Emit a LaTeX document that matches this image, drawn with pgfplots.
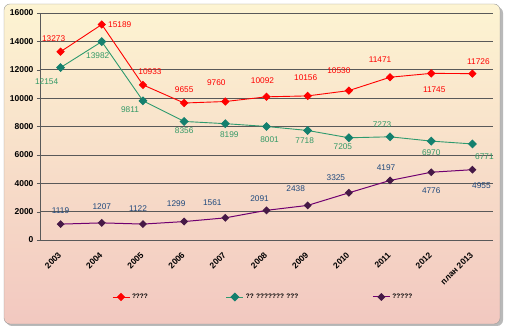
\documentclass[border=0pt]{standalone}
\usepackage{pgfplots}
\pgfplotsset{compat=1.18}
\usepackage{pgfplotstable}
\usepackage{fontspec}
\setmainfont{Liberation Sans}
\definecolor{cred}{RGB}{255,0,0}
\definecolor{cgreen}{RGB}{46,154,110}
\definecolor{cgreenm}{RGB}{20,128,110}
\definecolor{cgreenl}{RGB}{51,153,102}
\definecolor{cpurple}{RGB}{112,0,112}
\definecolor{cpurplem}{RGB}{70,25,70}
\definecolor{cblue}{RGB}{31,73,125}
\definecolor{bgtop}{RGB}{253,244,210}
\definecolor{bgmid}{RGB}{246,228,196}
\definecolor{bgbot}{RGB}{242,200,192}

\pgfplotstableread{
x y dx dy
0 13273 -7 -13
1 15189 18 0
2 10933 7 -13
3 9655 0 -13
4 9760 -9 -19
5 10092 -4 -16
6 10156 -2 -18
7 10530 -10 -20
8 11471 -10 -18
9 11745 3 16
10 11726 6 -12
}\redtab

\pgfplotstableread{
x y dx dy
0 12154 -14 14
1 13982 -4 14
2 9811 -13 9
3 8356 0 9
4 8199 4 11
5 8001 3 13
6 7718 -3 10
7 7205 -6 9
8 7273 -8 -12
9 6970 0 12
10 6771 12 13
}\greentab

\pgfplotstableread{
x y dx dy
0 1119 0 -13
1 1207 0 -16
2 1122 -5 -15
3 1299 -8 -18
4 1561 -13 -15
5 2091 -7 -12
6 2438 -12 -17
7 3325 -13 -15
8 4197 -4 -13
9 4776 0 18
10 4955 9 16
}\purpletab

\pgfplotsset{
  lbl/.style={
    nodes near coords={\pgfmathprintnumber{\pgfplotspointmeta}},
    point meta=explicit,
    visualization depends on={\thisrow{dx}\as\dx},
    visualization depends on={-\thisrow{dy}\as\dy},
    nodes near coords style={anchor=center, xshift=\dx, yshift=\dy, font=\fontsize{8.3}{9}\selectfont, text=#1},
  }
}

\begin{document}
\begin{tikzpicture}[x=1pt,y=1pt]
\useasboundingbox (0,0) rectangle (508,328);
\fill[gray!55, rounded corners=6pt] (6,2) rectangle (503,321);
\shade[top color=bgtop, middle color=bgmid, bottom color=bgbot, draw=gray!80, rounded corners=6pt] (4,4) rectangle (500,324);
\begin{axis}[
  at={(40pt,88pt)}, anchor=south west,
  scale only axis, width=453pt, height=227pt,
  xmin=-0.5, xmax=10.5, ymin=0, ymax=16000,
  axis x line=bottom, axis y line=left,
  axis line style={gray!70!black, -},
  clip=false,
  xtick={0,...,10},
  xticklabels={2003,2004,2005,2006,2007,2008,2009,2010,2011,2012,план 2013},
  x tick label style={xshift=-3pt, yshift=-7pt, rotate=45, anchor=north east, font=\bfseries\fontsize{8.5}{9}\selectfont, inner sep=1pt},
  major x tick style={draw=none},
  extra x ticks={-0.5,0.5,...,10.5},
  extra x tick labels={},
  extra x tick style={major tick length=4pt, tick align=outside, tick style={gray!70!black}},
  ytick={0,2000,...,16000},
  scaled y ticks=false,
  y tick label style={font=\bfseries\fontsize{8.5}{9}\selectfont},
  /pgf/number format/1000 sep={},
  /pgf/number format/assume math mode=true,
  ymajorgrids, grid style={gray!70!black, line width=0.5pt},
  major y tick style={gray!70!black},
  tick align=outside, major tick length=3pt,
  legend columns=3,
  legend style={at={(0.152,-0.251)}, anchor=west, draw=none, fill=none,
    font=\bfseries\fontsize{6.5}{7}\selectfont,
    /tikz/column 2/.style={column sep=76pt},
    /tikz/column 4/.style={column sep=72pt}},
]
\addplot[cred, line width=0.9pt, mark=square*, mark size=2.5pt, mark options={rotate=45, fill=cred, draw=cred},
  lbl=cred] table[x=x,y=y,meta=y] {\redtab};
\addlegendentry{????}
\addplot[cgreen, line width=0.9pt, mark=square*, mark size=2.7pt, mark options={rotate=45, fill=cgreenm, draw=cgreenm},
  lbl=cgreenl] table[x=x,y=y,meta=y] {\greentab};
\addlegendentry{?? ??????? ???}
\addplot[cpurple, line width=1pt, mark=square*, mark size=2.3pt, mark options={rotate=45, fill=cpurplem, draw=cpurplem},
  lbl=cblue] table[x=x,y=y,meta=y] {\purpletab};
\addlegendentry{?????}
\end{axis}
\end{tikzpicture}
\end{document}
